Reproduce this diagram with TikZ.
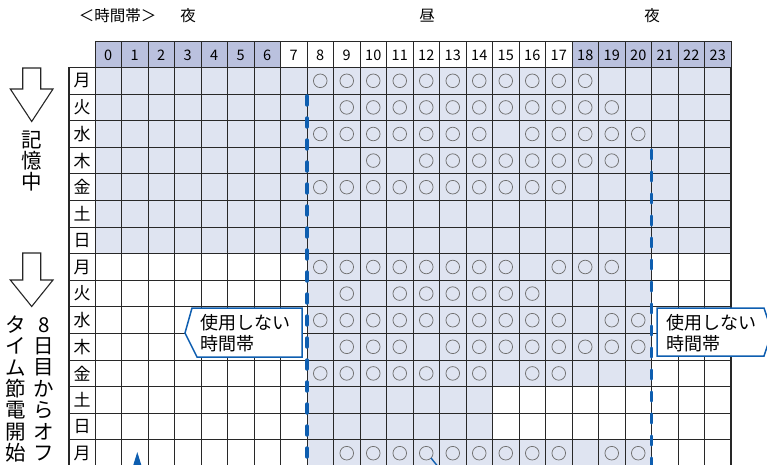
\documentclass[tikz,border=0pt]{standalone}
\usepackage{fontspec}
\setmainfont{Noto Sans CJK JP}
\usetikzlibrary{arrows.meta}

\definecolor{nightblue}{RGB}{186,193,222}
\definecolor{usedblue}{RGB}{223,228,241}
\definecolor{lineblue}{RGB}{14,94,176}
\definecolor{gridgray}{RGB}{40,40,40}
\definecolor{markgray}{RGB}{112,112,112}

\tikzset{
  gridline/.style={draw=gridgray,line width=0.9pt},
  border/.style={draw=gridgray,line width=1.8pt},
  okmark/.style={draw=markgray,line width=0.75pt},
  cutline/.style={draw=lineblue,line width=3.4pt,dash pattern=on 9pt off 13pt,line cap=round},
  callout/.style={draw=lineblue,line width=1.5pt,fill=white},
  calltext/.style={font=\fontsize{18}{20.5}\selectfont,align=left,anchor=west,inner sep=0pt},
  hourlabel/.style={font=\fontsize{14.5}{14.5}\selectfont},
  daylabel/.style={font=\fontsize{17}{17}\selectfont},
  titlelabel/.style={font=\fontsize{15.5}{15.5}\selectfont},
  bigarrow/.style={draw=black!85,line width=1.1pt,fill=white,line join=miter},
  vtext/.style={font=\fontsize{20.5}{21.4}\selectfont,align=center,inner sep=0pt},
  pointer/.style={draw=lineblue,line width=1.4pt},
}

\begin{document}
\begin{tikzpicture}[x=1pt,y=-1pt]
\useasboundingbox (0,0) rectangle (767,465);
\clip (0,0) rectangle (767,465);

% Shading
\fill[nightblue] (95,41.5) rectangle ({95+26.5*7},67.5);
\fill[nightblue] ({95+26.5*18},41.5) rectangle (731,67.5);
\fill[usedblue] (95,67.5) rectangle (731,{67.5+26.6*7});
\fill[usedblue] ({95+26.5*8},{67.5+26.6*7}) rectangle ({95+26.5*21},{67.5+26.6*12});
\fill[usedblue] ({95+26.5*8},{67.5+26.6*12}) rectangle ({95+26.5*15},{67.5+26.6*14});
\fill[usedblue] ({95+26.5*8},{67.5+26.6*14}) rectangle ({95+26.5*21},{67.5+26.6*15});

% Grid
\foreach \i in {0,...,24}
  \draw[gridline] ({95+26.5*\i},41.5) -- ({95+26.5*\i},470);
\draw[gridline] (95,41.5) -- (731,41.5);
\foreach \r in {1,...,15}
  \draw[gridline] (69,{67.5+26.6*\r}) -- (731,{67.5+26.6*\r});
\draw[border] (69,67.5) -- (731,67.5);
\draw[border] (69,67.5) -- (69,470);
\draw[border] (731,67.5) -- (731,470);

% Hours and days
\foreach \h in {0,...,23}
  \node[hourlabel] (h\h) at ({95+26.5*(\h+0.5)},55) {\h};
\foreach \d [count=\r] in {月,火,水,木,金,土,日,月,火,水,木,金,土,日,月}
  \node[daylabel] (d\r) at (82,{67.5+26.6*(\r-0.5)}) {\d};

% Marks
\foreach \r/\hrs in {1/{8,...,18},2/{9,...,19},3/{8,...,14,16,17,18,19,20},
    4/{10,12,13,14,15,16,17,18,19},5/{8,...,17},8/{8,...,15,17,18,19},
    9/{9,11,12,13,14,15,16},10/{8,...,17,19,20},11/{9,10,11,13,14,15,16,17,18,19,20},
    12/{8,...,14,16,17},15/{9,...,17,19,20}}
  \foreach \h in \hrs
    \draw[okmark] ({95+26.5*(\h+0.5)},{67.5+26.6*(\r-0.5)}) circle[radius=6.8pt];

% Cut-off lines
\coordinate (cutLtop) at ({95+26.5*8},96);
\coordinate (cutLend) at ({95+26.5*8},475);
\coordinate (cutRtop) at ({95+26.5*21},150);
\coordinate (cutRend) at ({95+26.5*21},475);
\draw[cutline] (cutLtop) -- (cutLend);
\draw[cutline] (cutRtop) -- (cutRend);

% Callouts
\draw[callout] (192,308) -- (302,308) -- (302,357) -- (197,357) -- (185,333) -- cycle;
\node[calltext] (offL) at (200,333) {使用しない\\時間帯};
\draw[callout] (657,308) -- (764,308) -- (772,332) -- (764,356) -- (657,356) -- cycle;
\node[calltext] (offR) at (666,333) {使用しない\\時間帯};

% Title line
\node[titlelabel] (band) at (117.5,16) {＜時間帯＞};
\node[titlelabel] (night1) at (188,16) {夜};
\node[titlelabel] (noon) at (427,16) {昼};
\node[titlelabel] (night2) at (652,16) {夜};

% Left arrows
\draw[bigarrow] (22.7,68) -- (40.7,68) -- (40.7,89) -- (53,89) -- (31.7,121.5)
  -- (10.3,89) -- (22.7,89) -- cycle;
\node[vtext] (memo) at (31.7,161) {記\\憶\\中};
\draw[bigarrow] (22.7,253) -- (40.7,253) -- (40.7,280) -- (53,280) -- (31.7,306.5)
  -- (10.3,280) -- (22.7,280) -- cycle;
\node[vtext] (startR) at (44,389) {8\\日\\目\\か\\ら\\オ\\フ};
\node[vtext] (startL) at (16,389) {タ\\イ\\ム\\節\\電\\開\\始};

% Pointers from below
\coordinate (ptrAtip) at (137.3,452);
\coordinate (ptrAtail) at (137.3,500);
\draw[pointer,-{Triangle[length=20pt,width=12pt]}] (ptrAtail) -- (ptrAtip);
\coordinate (ptrBtip) at (431,458);
\coordinate (ptrBtail) at (447,478);
\draw[pointer] (ptrBtip) -- (ptrBtail);
\end{tikzpicture}
\end{document}
